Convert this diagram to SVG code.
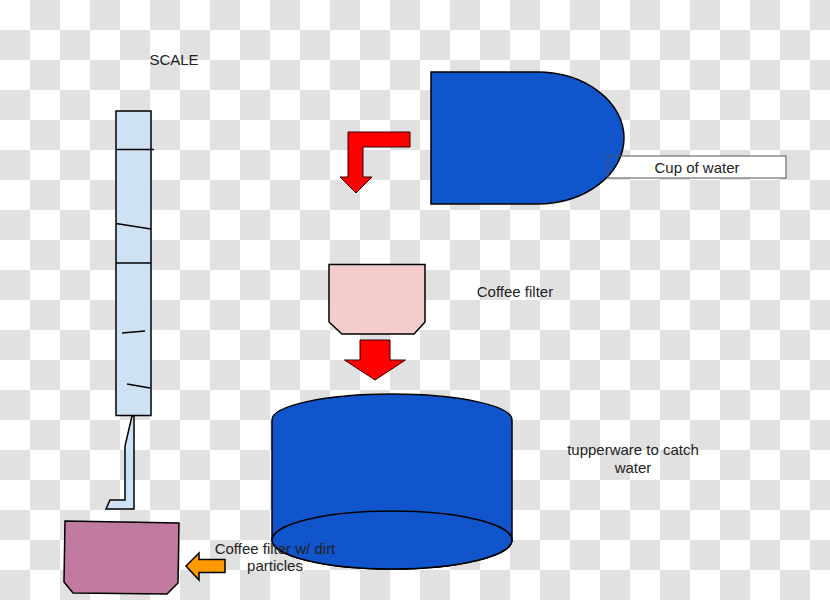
<svg xmlns="http://www.w3.org/2000/svg" width="830" height="600" viewBox="0 0 830 600">
<defs>
<pattern id="checker" x="0" y="0" width="60" height="60" patternUnits="userSpaceOnUse">
<rect x="0" y="0" width="60" height="60" fill="#ffffff"/>
<rect x="30" y="0" width="30" height="30" fill="#e1e1e1"/>
<rect x="0" y="30" width="30" height="30" fill="#e1e1e1"/>
</pattern>
<style>
.lbl{font-family:"Liberation Sans",Arial,sans-serif;font-size:15px;fill:#222222}
.ink{stroke:#000000;stroke-width:1.5;stroke-linejoin:miter}
.blue{fill:#1155cc}
.lightblue{fill:#cfe2f3}
.red{fill:#ff0000;stroke:#330000;stroke-width:1}
.tick{stroke:#000000;stroke-width:1.5;fill:none}
</style>
</defs>
<rect x="0" y="0" width="830" height="600" fill="url(#checker)"/>

<g id="scale-label"><text class="lbl" x="174" y="65" text-anchor="middle">SCALE</text></g>

<g id="scale">
<rect class="ink lightblue" x="116" y="111" width="35" height="304.5"/>
<line class="tick" x1="116" y1="149.5" x2="154" y2="149.5"/>
<line class="tick" x1="116" y1="223.5" x2="151" y2="229"/>
<line class="tick" x1="116" y1="263" x2="151" y2="263"/>
<line class="tick" x1="122" y1="333" x2="145" y2="331"/>
<line class="tick" x1="127" y1="384" x2="150" y2="388"/>
<polygon class="ink lightblue" points="132,416 125,446 125,500 110,500 106,509 134,509 134,416"/>
</g>

<g id="dirty-filter">
<polygon class="ink" fill="#c27ba0" points="65,521 179,523 178,583 167,594 73,593 64,582"/>
</g>

<g id="cup-label-box-fill"><rect x="608" y="156" width="178" height="22" fill="#ffffff"/></g>

<g id="cup">
<path class="ink blue" d="M431,72 H537 A87,66 0 0 1 537,204 H431 Z"/>
</g>

<g id="cup-label">
<rect x="608" y="156" width="178" height="22" fill="none" stroke="#555555" stroke-width="1"/>
<text class="lbl" x="697" y="173" text-anchor="middle">Cup of water</text>
</g>

<g id="coffee-filter">
<polygon class="ink" fill="#f4cccc" points="329,264.5 425,264.5 425,322 414,334 342,334 329,322"/>
</g>
<g id="coffee-filter-label"><text class="lbl" x="515" y="297" text-anchor="middle">Coffee filter</text></g>

<g id="tupperware">
<path class="ink blue" d="M272,420 A120,26 0 0 1 512,420 V540 A120,29 0 0 1 272,540 Z"/>
<ellipse class="ink blue" cx="392" cy="540" rx="120" ry="29"/>
</g>
<g id="tupperware-label">
<text class="lbl" x="633" y="455" text-anchor="middle">tupperware to catch</text>
<text class="lbl" x="633" y="473" text-anchor="middle">water</text>
</g>

<g id="connectors">
<polygon class="red" points="410,132 348,132 348,177 340,177 356,193 372,177 363,177 363,147 410,147"/>
<polygon class="red" points="360,340 390,340 390,360 405.5,360 375,380 344.5,360 360,360"/>
<polygon points="186,566 199,553 199,559.5 225,559.5 225,572.5 199,572.5 199,580" fill="#ff9900" stroke="#000000" stroke-width="1.5"/>
</g>

<g id="dirty-filter-label">
<text class="lbl" x="275" y="554" text-anchor="middle">Coffee filter w/ dirt</text>
<text class="lbl" x="275" y="571" text-anchor="middle">particles</text>
</g>
</svg>
